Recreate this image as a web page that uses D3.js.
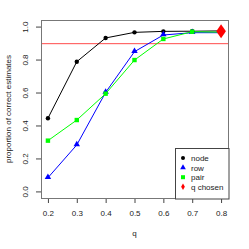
<!DOCTYPE html>
<html>
<head>
<meta charset="utf-8">
<script src="https://cdn.jsdelivr.net/npm/d3@7"></script>
<style>
  body { margin: 0; background: #fff; }
  text { font-family: "Liberation Sans", Arial, sans-serif; }
</style>
</head>
<body>
<div id="chart"></div>
<script>
// values
var qValues = [0.2, 0.3, 0.4, 0.5, 0.6, 0.7, 0.8];
var nodeVals = [0.444, 0.787, 0.931, 0.965, 0.971, 0.972, 0.974];
var rowVals = [0.083, 0.282, 0.601, 0.848, 0.949, 0.963, 0.963];
var pairVals = [0.308, 0.433, 0.593, 0.797, 0.925, 0.969, 0.966];
var chosenQ = [0.8];
var chosenVal = [0.972];
var threshold = 0.9;
var xTicks = [0.2, 0.3, 0.4, 0.5, 0.6, 0.7, 0.8];
var yTicks = [0, 0.2, 0.4, 0.6, 0.8, 1.0];
var legendLabels = ["node", "row", "pair", "q chosen"];

var width = 249, height = 249;
var margin = {top: 20, right: 21, bottom: 51, left: 41};

var svg = d3.select("#chart").append("svg")
    .attr("width", width)
    .attr("height", height);

var x = d3.scaleLinear()
    .domain([0.176, 0.824])
    .range([margin.left, width - margin.right]);
var y = d3.scaleLinear()
    .domain([-0.04, 1.04])
    .range([height - margin.bottom, margin.top]);

// threshold line
svg.append("line")
    .attr("x1", margin.left).attr("x2", width - margin.right)
    .attr("y1", y(threshold) + 0.6).attr("y2", y(threshold) + 0.6)
    .attr("stroke", "#ff4a4a").attr("stroke-width", 1);

// series lines
function drawLine(vals, color) {
    var line = d3.line()
        .x(function(d, i) { return x(qValues[i]); })
        .y(function(d) { return y(d); });
    svg.append("path")
        .attr("d", line(vals))
        .attr("fill", "none")
        .attr("stroke", color)
        .attr("stroke-width", 1);
}
drawLine(nodeVals, "#000");
drawLine(rowVals, "#0000ff");
drawLine(pairVals, "#00ff00");

// points
svg.selectAll(".pt-node").data(nodeVals).enter().append("circle")
    .attr("cx", function(d, i) { return x(qValues[i]); })
    .attr("cy", function(d) { return y(d); })
    .attr("r", 2.2).attr("fill", "#000");

var tri = d3.symbol().type(d3.symbolTriangle).size(18);
svg.selectAll(".pt-row").data(rowVals).enter().append("path")
    .attr("d", tri)
    .attr("transform", function(d, i) { return "translate(" + x(qValues[i]) + "," + (y(d) - 0.5) + ")"; })
    .attr("fill", "#0000ff");

svg.selectAll(".pt-pair").data(pairVals).enter().append("rect")
    .attr("x", function(d, i) { return x(qValues[i]) - 2.2; })
    .attr("y", function(d) { return y(d) - 2.2; })
    .attr("width", 4.4).attr("height", 4.4)
    .attr("fill", "#00ff00");

var diamond = d3.symbol().type(d3.symbolDiamond).size(56);
svg.selectAll(".pt-chosen").data(chosenVal).enter().append("path")
    .attr("d", diamond)
    .attr("transform", function(d, i) { return "translate(" + x(chosenQ[i]) + "," + y(d) + ") scale(1.2,1)"; })
    .attr("fill", "#ff0000");

// axes
var xAxis = d3.axisBottom(x).tickValues(xTicks).tickSize(5).tickFormat(d3.format(".1f"));
var gx = svg.append("g")
    .attr("transform", "translate(0," + (height - margin.bottom) + ")")
    .call(xAxis);
gx.select(".domain").remove();
gx.selectAll("line").attr("stroke", "#444");
gx.selectAll("text").attr("font-size", 8).attr("fill", "#222").attr("dy", "1.3em");

var yAxis = d3.axisLeft(y).tickValues(yTicks).tickSize(5).tickFormat(d3.format(".1f"));
var gy = svg.append("g")
    .attr("transform", "translate(" + margin.left + ",0)")
    .call(yAxis);
gy.select(".domain").remove();
gy.selectAll("line").attr("stroke", "#444");
gy.selectAll("text")
    .attr("font-size", 8).attr("fill", "#222")
    .attr("x", 0).attr("dy", 0)
    .attr("text-anchor", "middle")
    .attr("transform", function(d) { return "translate(-13,0) rotate(-90)"; });
gy.selectAll(".tick text").attr("y", 0);

// plot box
svg.append("rect")
    .attr("x", margin.left + 0.5).attr("y", margin.top + 0.5)
    .attr("width", width - margin.left - margin.right)
    .attr("height", height - margin.top - margin.bottom)
    .attr("fill", "none").attr("stroke", "#777").attr("stroke-width", 1);

// axis titles
svg.append("text")
    .attr("x", (margin.left + width - margin.right) / 2)
    .attr("y", 236)
    .attr("text-anchor", "middle")
    .attr("font-size", 8).attr("fill", "#222")
    .text("q");
svg.append("text")
    .attr("transform", "translate(11," + ((margin.top + height - margin.bottom) / 2) + ") rotate(-90)")
    .attr("text-anchor", "middle")
    .attr("font-size", 8).attr("fill", "#222")
    .text("proportion of correct estimates");

// legend
var lx = 175, ly = 148;
var lw = width - margin.right - lx + 0.5, lh = height - margin.bottom - ly + 0.5;
svg.append("rect")
    .attr("x", lx + 0.5).attr("y", ly + 0.5)
    .attr("width", lw).attr("height", lh)
    .attr("fill", "#fff").attr("stroke", "#444");

var leg = svg.selectAll(".leg").data(legendLabels).enter().append("g")
    .attr("transform", function(d, i) { return "translate(" + (lx + 8) + "," + (ly + 10 + i * 9.6) + ")"; });
leg.append("text")
    .attr("x", 8).attr("y", 3)
    .attr("font-size", 8).attr("fill", "#222")
    .text(function(d) { return d; });
leg.each(function(d, i) {
    var g = d3.select(this);
    if (i === 0) g.append("circle").attr("r", 2).attr("fill", "#000");
    if (i === 1) g.append("path").attr("d", d3.symbol().type(d3.symbolTriangle).size(14)).attr("fill", "#0000ff");
    if (i === 2) g.append("rect").attr("x", -2).attr("y", -2).attr("width", 4).attr("height", 4).attr("fill", "#00ff00");
    if (i === 3) g.append("path").attr("d", d3.symbol().type(d3.symbolDiamond).size(12)).attr("fill", "#ff0000");
});
</script>
</body>
</html>
